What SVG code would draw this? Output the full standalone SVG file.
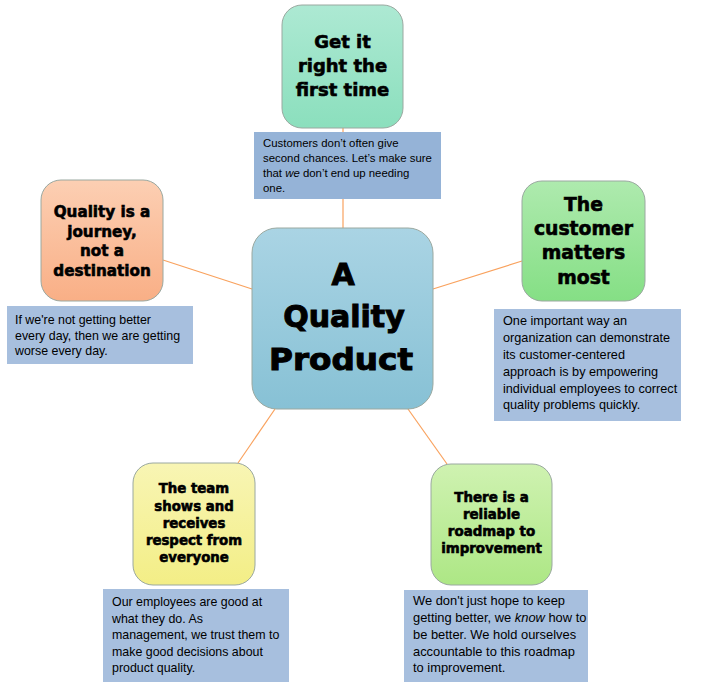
<svg xmlns="http://www.w3.org/2000/svg" width="714" height="699" viewBox="0 0 714 699">
<defs>
<linearGradient id="gTop" x1="0" y1="0" x2="0" y2="1"><stop offset="0" stop-color="#ADE9D3"/><stop offset="1" stop-color="#8BDFBD"/></linearGradient>
<linearGradient id="gLeft" x1="0" y1="0" x2="0" y2="1"><stop offset="0" stop-color="#FCCFB3"/><stop offset="1" stop-color="#F9AF86"/></linearGradient>
<linearGradient id="gCenter" x1="0" y1="0" x2="0" y2="1"><stop offset="0" stop-color="#AAD4E4"/><stop offset="1" stop-color="#87C1D5"/></linearGradient>
<linearGradient id="gRight" x1="0" y1="0" x2="0" y2="1"><stop offset="0" stop-color="#AEEAAE"/><stop offset="1" stop-color="#85DF85"/></linearGradient>
<linearGradient id="gBL" x1="0" y1="0" x2="0" y2="1"><stop offset="0" stop-color="#F8F5B4"/><stop offset="1" stop-color="#F3EE86"/></linearGradient>
<linearGradient id="gBR" x1="0" y1="0" x2="0" y2="1"><stop offset="0" stop-color="#CFF2B1"/><stop offset="1" stop-color="#ADE785"/></linearGradient>
</defs>
<style>
.conn{stroke:#F9A25E;stroke-width:1.2;fill:none}
.node{stroke:#9AA8A0;stroke-width:1}
.title{font-family:"DejaVu Sans","Liberation Sans",sans-serif;font-weight:bold;fill:#000;stroke:#000;stroke-width:0.6;text-anchor:middle}
.big{stroke-width:1}
.note{fill:#A7BFDE}
.note.dark{fill:#95B3D7}
.nt{font-family:"Liberation Sans",Arial,sans-serif;fill:#000}
</style>
<g id="connectors">
<line class="conn" x1="343" y1="128" x2="343" y2="228"/>
<line class="conn" x1="163" y1="260" x2="252" y2="289"/>
<line class="conn" x1="433" y1="289" x2="522" y2="261"/>
<line class="conn" x1="275" y1="409" x2="238" y2="463"/>
<line class="conn" x1="408" y1="409" x2="447" y2="464"/>
</g>
<g id="center">
<rect class="node" x="252" y="228" width="181" height="181" rx="25" fill="url(#gCenter)"/>
<text class="title big" font-size="30" x="343" y="285">A</text>
<text class="title big" font-size="30" x="344" y="327">Quality</text>
<text class="title big" font-size="30" x="341" y="370" textLength="144" lengthAdjust="spacingAndGlyphs">Product</text>
</g>
<g id="node-top">
<rect class="node" x="282" y="5" width="121" height="123" rx="20" fill="url(#gTop)"/>
<text class="title" font-size="18" x="342.5" y="48">Get it</text>
<text class="title" font-size="18" x="342.5" y="72">right the</text>
<text class="title" font-size="18" x="342.5" y="96">first time</text>
</g>
<g id="note-top">
<rect class="note dark" x="254" y="132" width="187" height="67"/>
<text class="nt" font-size="11.4" x="263" y="147">Customers don’t often give</text>
<text class="nt" font-size="11.4" x="263" y="162">second chances. Let’s make sure</text>
<text class="nt" font-size="11.4" x="263" y="177">that <tspan font-style="italic">we</tspan> don’t end up needing</text>
<text class="nt" font-size="11.4" x="263" y="192">one.</text>
</g>
<g id="node-left">
<rect class="node" x="41" y="180" width="122" height="121" rx="20" fill="url(#gLeft)"/>
<text class="title" font-size="15.2" x="102" y="217">Quality is a</text>
<text class="title" font-size="15.2" x="102" y="236.5">journey,</text>
<text class="title" font-size="15.2" x="102" y="256">not a</text>
<text class="title" font-size="15.2" x="102" y="275.5">destination</text>
</g>
<g id="note-left">
<rect class="note" x="7" y="306" width="186" height="58"/>
<text class="nt" font-size="12.4" x="15" y="324">If we're not getting better</text>
<text class="nt" font-size="12.4" x="15" y="339.5">every day, then we are getting</text>
<text class="nt" font-size="12.4" x="15" y="355">worse every day.</text>
</g>
<g id="node-right">
<rect class="node" x="522" y="181" width="123" height="120" rx="20" fill="url(#gRight)"/>
<text class="title" font-size="18.8" x="583.5" y="210.5">The</text>
<text class="title" font-size="18.8" x="583.5" y="235">customer</text>
<text class="title" font-size="18.8" x="583.5" y="259">matters</text>
<text class="title" font-size="18.8" x="583.5" y="283.5">most</text>
</g>
<g id="note-right">
<rect class="note" x="494" y="309" width="187" height="112"/>
<text class="nt" font-size="12.7" x="503" y="325">One important way an</text>
<text class="nt" font-size="12.7" x="503" y="342">organization can demonstrate</text>
<text class="nt" font-size="12.7" x="503" y="358.5">its customer-centered</text>
<text class="nt" font-size="12.7" x="503" y="375.5">approach is by empowering</text>
<text class="nt" font-size="12.7" x="503" y="392.5">individual employees to correct</text>
<text class="nt" font-size="12.7" x="503" y="409">quality problems quickly.</text>
</g>
<g id="node-bottom-left">
<rect class="node" x="133" y="463" width="122" height="122" rx="20" fill="url(#gBL)"/>
<text class="title" font-size="13.3" x="194" y="493">The team</text>
<text class="title" font-size="13.3" x="194" y="510.5">shows and</text>
<text class="title" font-size="13.3" x="194" y="527.5">receives</text>
<text class="title" font-size="13.3" x="194" y="545">respect from</text>
<text class="title" font-size="13.3" x="194" y="562">everyone</text>
</g>
<g id="note-bottom-left">
<rect class="note" x="103" y="589" width="186" height="93"/>
<text class="nt" font-size="12.4" x="112" y="606">Our employees are good at</text>
<text class="nt" font-size="12.4" x="112" y="622.5">what they do. As</text>
<text class="nt" font-size="12.4" x="112" y="639">management, we trust them to</text>
<text class="nt" font-size="12.4" x="112" y="655.5">make good decisions about</text>
<text class="nt" font-size="12.4" x="112" y="672">product quality.</text>
</g>
<g id="node-bottom-right">
<rect class="node" x="431" y="464" width="121" height="121" rx="20" fill="url(#gBR)"/>
<text class="title" font-size="13.4" x="491.5" y="501.5">There is a</text>
<text class="title" font-size="13.4" x="491.5" y="519">reliable</text>
<text class="title" font-size="13.4" x="491.5" y="536">roadmap to</text>
<text class="title" font-size="13.4" x="491.5" y="553">improvement</text>
</g>
<g id="note-bottom-right">
<rect class="note" x="404" y="590" width="184" height="92"/>
<text class="nt" font-size="12.9" x="413" y="605">We don't just hope to keep</text>
<text class="nt" font-size="12.9" x="413" y="622">getting better, we <tspan font-style="italic">know</tspan> how to</text>
<text class="nt" font-size="12.9" x="413" y="639">be better. We hold ourselves</text>
<text class="nt" font-size="12.9" x="413" y="656">accountable to this roadmap</text>
<text class="nt" font-size="12.9" x="413" y="672">to improvement.</text>
</g>
</svg>
